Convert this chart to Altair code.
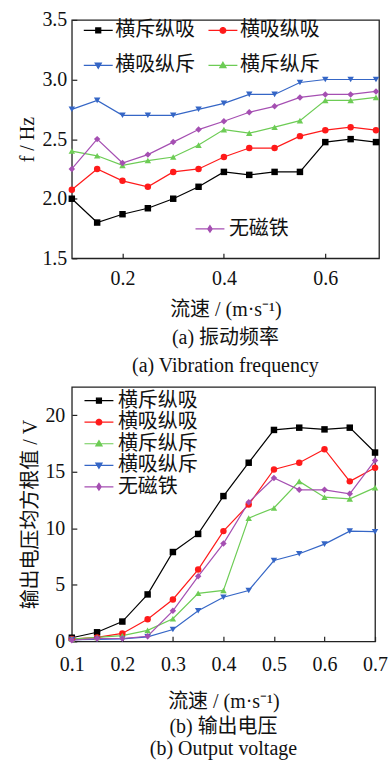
import math
import altair as alt
import pandas as pd

# ---------------- data ----------------
speeds = [0.1, 0.15, 0.2, 0.25, 0.3, 0.35, 0.4, 0.45, 0.5, 0.55, 0.6, 0.65, 0.7]
series = ["横斥纵吸", "横吸纵吸", "横吸纵斥", "横斥纵斥", "无磁铁"]

# (a) vibration frequency, Hz
freq_hc_zx = [2.00, 1.80, 1.87, 1.92, 2.00, 2.10, 2.225, 2.20, 2.225, 2.225, 2.475, 2.50, 2.475]
freq_hx_zx = [2.075, 2.25, 2.15, 2.10, 2.225, 2.25, 2.35, 2.425, 2.425, 2.525, 2.575, 2.60, 2.575]
freq_hx_zc = [2.75, 2.825, 2.70, 2.70, 2.70, 2.75, 2.80, 2.875, 2.875, 2.975, 3.00, 3.00, 3.00]
freq_hc_zc = [2.40, 2.36, 2.28, 2.32, 2.35, 2.45, 2.58, 2.55, 2.60, 2.655, 2.825, 2.825, 2.85]
freq_none = [2.25, 2.50, 2.30, 2.37, 2.475, 2.58, 2.65, 2.725, 2.775, 2.85, 2.875, 2.875, 2.90]

# (b) output voltage RMS, V
volt_hc_zx = [0.32, 0.8, 1.75, 4.15, 7.9, 9.5, 12.85, 15.8, 18.7, 18.9, 18.75, 18.9, 16.7]
volt_hx_zx = [0.2, 0.35, 0.7, 1.95, 3.7, 6.35, 9.75, 12.1, 15.2, 15.8, 17.0, 14.15, 15.35]
volt_hx_zc = [0.15, 0.18, 0.22, 0.4, 1.05, 2.7, 3.9, 4.5, 7.15, 7.75, 8.6, 9.75, 9.7]
volt_hc_zc = [0.2, 0.35, 0.5, 0.97, 2.0, 4.25, 4.5, 10.9, 11.8, 14.15, 12.75, 12.6, 13.6]
volt_none = [0.1, 0.25, 0.25, 0.45, 2.7, 5.75, 8.65, 12.3, 14.45, 13.4, 13.4, 13.05, 16.0]

top_x_ticks = [0.2, 0.4, 0.6]
top_y_ticks = [1.5, 2.0, 2.5, 3.0, 3.5]
bot_x_ticks = [0.1, 0.2, 0.3, 0.4, 0.5, 0.6, 0.7]
bot_y_ticks = [0, 5, 10, 15, 20]

# legend entries (top legend is filled column by column)
top_legend_order = ["横斥纵吸", "横吸纵斥", "横吸纵吸", "横斥纵斥"]
bot_legend_order = ["横斥纵吸", "横吸纵吸", "横斥纵斥", "横吸纵斥", "无磁铁"]


def long_table(cols):
    rows = []
    for name, vals in zip(series, cols):
        for s, v in zip(speeds, vals):
            rows.append({"speed": s, "value": v, "series": name})
    return pd.DataFrame(rows)


df_freq = long_table([freq_hc_zx, freq_hx_zx, freq_hx_zc, freq_hc_zc, freq_none])
df_volt = long_table([volt_hc_zx, volt_hx_zx, volt_hx_zc, volt_hc_zc, volt_none])

# ---------------- styles ----------------
colors = ["#000000", "#ff1a1a", "#3566c6", "#6dcc55", "#a54fb2"]
shapes = ["square", "circle", "triangle-down", "triangle-up", "diamond"]

LAT = "Liberation Serif"
MIX = "Liberation Serif, Noto Sans CJK SC"
CJK = "Noto Sans CJK SC"


def circle_path(r, n=14):
    pts = [(r * math.cos(2 * math.pi * i / n), r * math.sin(2 * math.pi * i / n)) for i in range(n)]
    return "M" + "L".join(f"{x:.3f},{y:.3f}" for x, y in pts) + "Z"


L = 2.9
line = f"M{-L},0H{L}"
legend_paths = [
    line + "M-0.5,-0.5H0.5V0.5H-0.5Z",
    line + circle_path(0.58),
    line + "M-0.62,-0.45H0.62L0,0.62Z",
    line + "M0,-0.62L0.62,0.45H-0.62Z",
    line + "M0,-0.68L0.45,0L0,0.68L-0.45,0Z",
]


def lookup_expr(keys, vals):
    e = f"'{vals[-1]}'"
    for k, v in zip(keys[-2::-1], vals[-2::-1]):
        e = f"datum.value === '{k}' ? '{v}' : {e}"
    return e


shape_expr = alt.ExprRef(lookup_expr(series, legend_paths))
color_expr = alt.ExprRef(lookup_expr(series, colors))

color_scale = alt.Scale(domain=series, range=colors)
fill_scale = alt.Scale(domain=series[::-1], range=colors[::-1])
shape_scale = alt.Scale(domain=series, range=shapes)

TOP_LEFT = 73.0
BOT_LEFT = 68.0


def legend(values, x, y, columns=0, row_pad=1, col_pad=10, label_offset=11, sym_offset=4.5):
    kw = dict(
        values=values, orient="none", legendX=x, legendY=y, title=None,
        labelFont=CJK, labelFontSize=20, labelColor="#111", symbolSize=100,
        symbolOffset=sym_offset, labelOffset=label_offset, rowPadding=row_pad,
        columnPadding=col_pad, padding=0,
        symbolType=shape_expr, symbolFillColor=color_expr,
        symbolStrokeColor=color_expr, symbolStrokeWidth=1.2, symbolOpacity=1,
    )
    if columns:
        kw["columns"] = columns
    return alt.Legend(**kw)


def panel(df, xdom, ydom, xticks, yticks, xfmt, yfmt, ytitle, width, height,
          main_legend, extra_legend, lab_pad_x, title_pad_x, lab_pad_y, title_pad_y,
          cap, subcap, cap_off, sub_pad):
    x = alt.X("speed:Q", scale=alt.Scale(domain=xdom, nice=False, zero=False),
              axis=alt.Axis(values=xticks, format=xfmt, title="流速 / (m·s⁻¹)",
                            offset=-5, tickSize=5, labelPadding=lab_pad_x,
                            titlePadding=title_pad_x, domain=False, grid=False,
                            labelFont=LAT, labelFontSize=20, labelColor="#111",
                            titleFont=MIX, titleFontSize=20, titleFontWeight="normal",
                            titleColor="#111", tickColor="#222", tickWidth=1.2,
                            labelFlush=False))
    y = alt.Y("value:Q", scale=alt.Scale(domain=ydom, nice=False, zero=False),
              axis=alt.Axis(values=yticks, format=yfmt, title=ytitle,
                            offset=-5, tickSize=5, labelPadding=lab_pad_y,
                            titlePadding=title_pad_y, domain=False, grid=False,
                            labelFont=LAT, labelFontSize=20, labelColor="#111",
                            titleFont=MIX, titleFontSize=20, titleFontWeight="normal",
                            titleColor="#111", tickColor="#222", tickWidth=1.2,
                            labelFlush=False))
    base = alt.Chart(df).encode(x=x, y=y)
    lines = base.mark_line(strokeWidth=1.2).encode(
        color=alt.Color("series:N", scale=color_scale, legend=main_legend))
    points = base.mark_point(filled=True, size=42, opacity=1).encode(
        fill=alt.Fill("series:N", scale=fill_scale, legend=extra_legend),
        shape=alt.Shape("series:N", scale=shape_scale, legend=None))
    return alt.layer(lines, points).properties(
        width=width, height=height,
        title=alt.TitleParams(cap, subtitle=subcap, orient="bottom", anchor="middle",
                              font=MIX, fontSize=20, fontWeight="normal", color="#111",
                              subtitleFont=MIX, subtitleFontSize=20, subtitleColor="#111",
                              offset=cap_off, subtitlePadding=sub_pad))


top = panel(
    df_freq, [0.1, 0.706], [1.5, 3.5], top_x_ticks, top_y_ticks, ".1f", ".1f", "f / Hz",
    308, 239,
    legend(top_legend_order, 85 - TOP_LEFT, 0.5, columns=2, row_pad=15, col_pad=10,
           label_offset=7, sym_offset=4.5),
    legend(["无磁铁"], 197 - TOP_LEFT, 199.5, label_offset=9, sym_offset=4.5),
    10, 11, 5, 4, "(a)  振动频率", "(a)  Vibration frequency", 9, 8,
)

bottom = panel(
    df_volt, [0.1, 0.7], [0, 22.5], bot_x_ticks, bot_y_ticks, ".1f", "d", "输出电压均方根值 / V",
    304, 255,
    legend(bot_legend_order, 80.7 - BOT_LEFT, 3.7, row_pad=1.6, label_offset=9, sym_offset=4.5),
    None,
    13, 17, 7, 4, "(b)  输出电压", "(b)  Output voltage", 6, 2,
)

chart = alt.vconcat(top, bottom, spacing=9).resolve_legend(
    color="independent", fill="independent"
).properties(
    padding={"left": 17, "top": 8, "right": 0, "bottom": 0},
    background="white",
).configure_view(stroke="#222", strokeWidth=1.3)

chart.save("out.html", embed_options={"renderer": "svg", "actions": False})
